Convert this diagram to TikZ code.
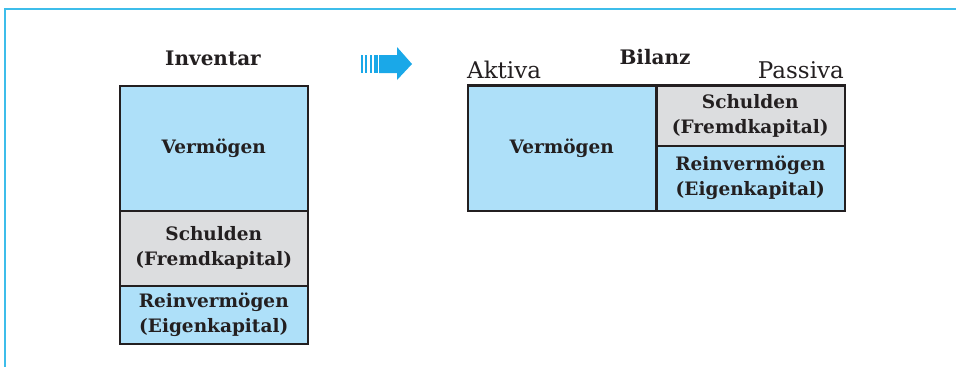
\documentclass[tikz,border=0pt]{standalone}
\usepackage{fontspec}
\setmainfont{DejaVu Serif}
\usepackage{tikz}
\usetikzlibrary{positioning}
\definecolor{rahmen}{HTML}{3DBDEA}
\definecolor{pfeil}{HTML}{1AA8E8}
\definecolor{hellblau}{HTML}{AEE0F9}
\definecolor{hellgrau}{HTML}{DCDDDF}
\definecolor{schrift}{HTML}{231F20}
\tikzset{
  feld/.style={draw=schrift, line width=1.5pt, anchor=north west, inner sep=0pt,
    align=center, text=schrift, font=\bfseries\fontsize{18.5}{25}\selectfont},
  titel/.style={text=schrift, font=\bfseries\fontsize{20}{24}\selectfont},
  seite/.style={text=schrift, font=\fontsize{23}{26}\selectfont, inner sep=0pt}
}

\begin{document}
\begin{tikzpicture}[x=1pt, y=-1pt]
\useasboundingbox (0,0) rectangle (956,367);
\draw[rahmen, line width=2pt] (956,9) -- (5,9) -- (5,367);

% Inventar
\node[titel] (inv) at (213,58) {Inventar};
\node[feld, fill=hellblau, minimum width=188pt, minimum height=125pt] (iverm) at (119,85) {Vermögen};
\node[feld, fill=hellgrau, minimum width=188pt, minimum height=75pt] (ischuld) at (119,210) {Schulden\\(Fremdkapital)};
\node[feld, fill=hellblau, minimum width=188pt, minimum height=58pt] (irein) at (119,285) {Reinvermögen\\(Eigenkapital)};

% Pfeil
\foreach \a/\b in {360.5/362.5, 365/367, 369.5/372, 374/377.5} {
  \fill[pfeil] (\a,55) rectangle (\b,73);
}
\fill[pfeil] (379,55) -- (397,55) -- (397,47) -- (412,64) -- (397,80) -- (397,73) -- (379,73) -- cycle;

% Bilanz
\node[titel] (bil) at (655,57) {Bilanz};
\node[feld, fill=hellblau, minimum width=188pt, minimum height=125pt] (bverm) at (467,85) {Vermögen};
\node[feld, fill=hellgrau, minimum width=189pt, minimum height=60pt] (bschuld) at (655,85) {Schulden\\(Fremdkapital)};
\node[feld, fill=hellblau, minimum width=189pt, minimum height=65pt] (brein) at (655,145) {Reinvermögen\\(Eigenkapital)};
\draw[schrift, line width=3pt] (bverm.north west) -- (bschuld.north east);
\draw[schrift, line width=2.5pt] (bverm.north east) -- (bverm.south east);
\node[seite, anchor=base west] (akt) at (467,78) {Aktiva};
\node[seite, anchor=base east] (pas) at (844,78) {Passiva};
\end{tikzpicture}
\end{document}
